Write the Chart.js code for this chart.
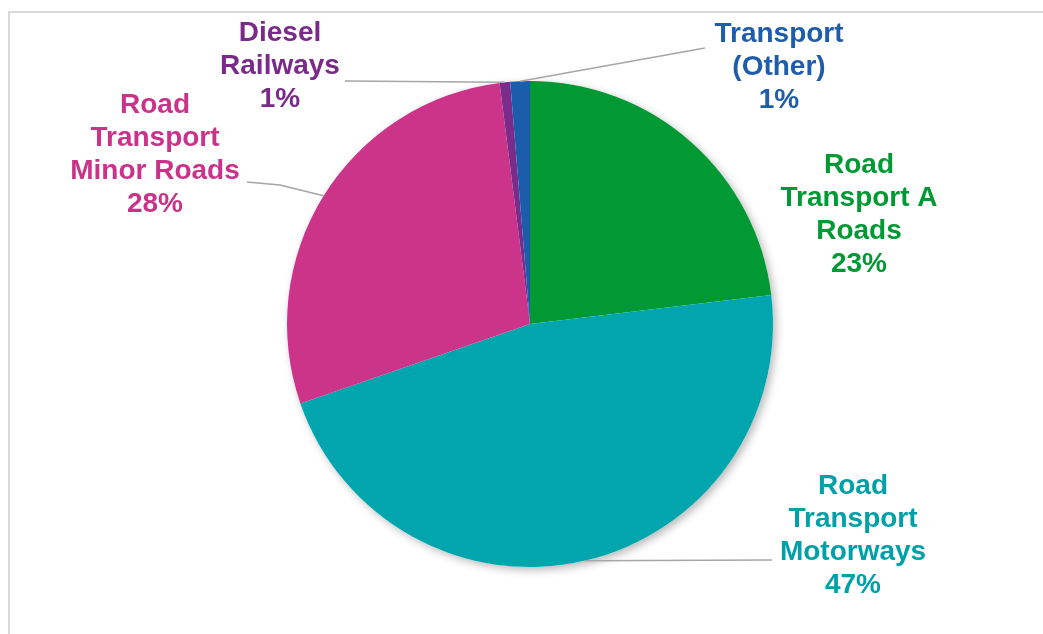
<!DOCTYPE html>
<html>
<head>
<meta charset="utf-8">
<script src="https://cdn.jsdelivr.net/npm/chart.js@4/dist/chart.umd.min.js"></script>
<style>
  html, body { margin: 0; padding: 0; background: #fff; }
  canvas { display: block; }
</style>
</head>
<body>
<canvas id="pieChart" width="1043" height="634"></canvas>
<script>
// slices, clockwise from 12 o'clock
const categories = [
    ['Road', 'Transport A', 'Roads'],
    ['Road', 'Transport', 'Motorways'],
    ['Road', 'Transport', 'Minor Roads'],
    ['Diesel', 'Railways'],
    ['Transport', '(Other)']
];
const shares = [23.1, 46.6, 28.3, 0.7, 1.3];
const sliceColors = ['#009933', '#00A5AD', '#CC3489', '#7B2B8A', '#1B5CAB'];
const textColors = ['#009933', '#00A0A8', '#C9348A', '#7A2A88', '#1F5DAA'];

// where each label sits (centre x, first line y) and the bend points of its leader line
const labelSpots = [
    { x: 859, y: 165, bends: null },
    { x: 853, y: 486, bends: [[772, 560]] },
    { x: 155, y: 105, bends: [[280, 185], [247, 182]] },
    { x: 280, y: 33, bends: [[345, 81]] },
    { x: 779, y: 34, bends: [[705, 48]] }
];

const framePlugin = {
    id: 'frame',
    beforeDraw(chart) {
        const ctx = chart.ctx;
        ctx.save();
        ctx.strokeStyle = '#D9D9D9';
        ctx.lineWidth = 2;
        ctx.strokeRect(9, 12, 1200, 800);
        ctx.restore();
    }
};

const shadowPlugin = {
    id: 'pieShadow',
    beforeDatasetsDraw(chart) {
        const arc = chart.getDatasetMeta(0).data[0];
        if (!arc) return;
        const ctx = chart.ctx;
        ctx.save();
        ctx.shadowColor = 'rgba(0,0,0,0.28)';
        ctx.shadowBlur = 9;
        ctx.shadowOffsetX = 3;
        ctx.shadowOffsetY = 3;
        ctx.fillStyle = '#fff';
        ctx.beginPath();
        ctx.arc(arc.x, arc.y, arc.outerRadius, 0, Math.PI * 2);
        ctx.fill();
        ctx.restore();
    }
};

const labelPlugin = {
    id: 'sliceLabels',
    afterDatasetsDraw(chart) {
        const ctx = chart.ctx;
        const arcs = chart.getDatasetMeta(0).data;
        const lineGap = 33;
        ctx.save();
        arcs.forEach((arc, i) => {
            const spot = labelSpots[i];
            // leader line from the middle of the slice's outer edge
            if (spot.bends) {
                const mid = (arc.startAngle + arc.endAngle) / 2;
                const sx = arc.x + Math.cos(mid) * arc.outerRadius;
                const sy = arc.y + Math.sin(mid) * arc.outerRadius;
                ctx.strokeStyle = '#A6A6A6';
                ctx.lineWidth = 1.5;
                ctx.beginPath();
                ctx.moveTo(sx, sy);
                spot.bends.forEach(p => ctx.lineTo(p[0], p[1]));
                ctx.stroke();
            }
            const lines = categories[i].concat([Math.round(shares[i]) + '%']);
            ctx.fillStyle = textColors[i];
            ctx.font = 'bold 28px "Liberation Sans", Arial, sans-serif';
            ctx.textAlign = 'center';
            ctx.textBaseline = 'middle';
            lines.forEach((txt, k) => {
                ctx.fillText(txt, spot.x, spot.y + k * lineGap);
            });
        });
        ctx.restore();
    }
};

new Chart(document.getElementById('pieChart'), {
    type: 'pie',
    data: {
        labels: categories.map(c => c.join(' ')),
        datasets: [{
            data: shares,
            backgroundColor: sliceColors,
            borderWidth: 0
        }]
    },
    options: {
        responsive: false,
        animation: false,
        layout: {
            padding: { top: 81, bottom: 67, left: 287, right: 270 }
        },
        plugins: {
            legend: { display: false },
            tooltip: { enabled: false }
        }
    },
    plugins: [framePlugin, shadowPlugin, labelPlugin]
});
</script>
</body>
</html>
